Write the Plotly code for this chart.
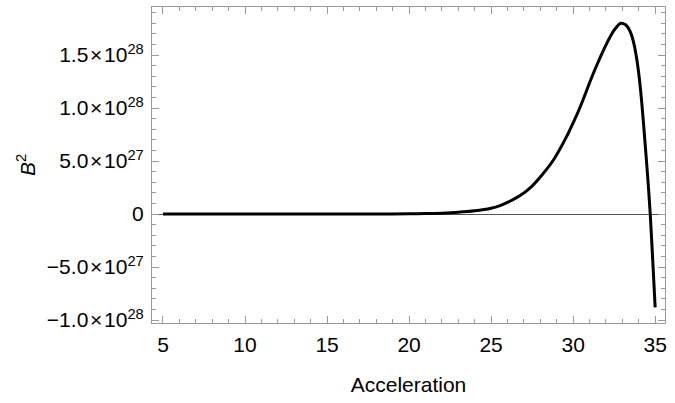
import plotly.graph_objects as go

# Data (y in units of 1e28)
acceleration = [5, 10, 15, 18, 20, 21, 22, 23, 24, 25, 25.55, 26, 26.77, 27.4, 28, 28.8,
                29.6, 30, 30.43, 31.24, 32.05, 32.5, 32.9, 33.2, 33.48, 33.7, 33.88, 34.05,
                34.19, 34.39, 34.55, 34.7, 34.85, 35]
b2_scaled = [0, 0, 0, 0.0005, 0.002, 0.004, 0.008, 0.016, 0.03, 0.055, 0.08, 0.11, 0.175,
             0.25, 0.35, 0.51, 0.73, 0.86, 1.01, 1.33, 1.61, 1.735, 1.80, 1.785, 1.72, 1.61,
             1.46, 1.26, 1.04, 0.66, 0.34, 0.0, -0.43, -0.88]
scale = 1e28
b2 = [v * scale for v in b2_scaled]

x_ticks = [5, 10, 15, 20, 25, 30, 35]
y_tickvals = [-1.0e28, -5.0e27, 0, 5.0e27, 1.0e28, 1.5e28]
times = "\u200a\u00d7\u200a"
y_ticktext = ["\u22121.0" + times + "10<sup>28</sup>", "\u22125.0" + times + "10<sup>27</sup>", "0",
              "5.0" + times + "10<sup>27</sup>", "1.0" + times + "10<sup>28</sup>",
              "1.5" + times + "10<sup>28</sup>"]

font_family = "Liberation Sans, Arial, sans-serif"
frame_color = "#9a9a9a"

fig = go.Figure()
fig.add_trace(go.Scatter(x=acceleration, y=b2, mode="lines",
                         line=dict(color="black", width=3, shape="spline", smoothing=0.6),
                         showlegend=False, hoverinfo="skip"))

fig.update_layout(
    width=675, height=403,
    margin=dict(l=152, r=10, t=7, b=80),
    paper_bgcolor="white", plot_bgcolor="white",
    font=dict(family=font_family, size=21, color="black"),
    xaxis=dict(
        range=[4.33, 35.6], tickvals=x_ticks, ticktext=[str(t) for t in x_ticks],
        showgrid=False, zeroline=False,
        showline=True, linecolor=frame_color, linewidth=1, mirror="ticks",
        ticks="inside", ticklen=7, tickcolor=frame_color, tickwidth=1,
        minor=dict(ticks="inside", ticklen=4, dtick=1, tick0=0, tickcolor=frame_color, showgrid=False),
        tickfont=dict(size=21), ticklabelstandoff=3,
        title=dict(text="Acceleration", font=dict(size=21), standoff=22),
    ),
    yaxis=dict(
        range=[-1.028e28, 1.953e28], tickvals=y_tickvals, ticktext=y_ticktext,
        showgrid=False, zeroline=True, zerolinecolor="#555555", zerolinewidth=1,
        showline=True, linecolor=frame_color, linewidth=1, mirror="ticks",
        ticks="inside", ticklen=7, tickcolor=frame_color, tickwidth=1,
        minor=dict(ticks="inside", ticklen=4, dtick=1e27, tick0=0, tickcolor=frame_color, showgrid=False),
        tickfont=dict(size=21), ticklabelstandoff=3,
        title=dict(text="<i>B</i><sup>2</sup>", font=dict(size=21), standoff=5),
    ),
)

fig.write_html("out.html")
